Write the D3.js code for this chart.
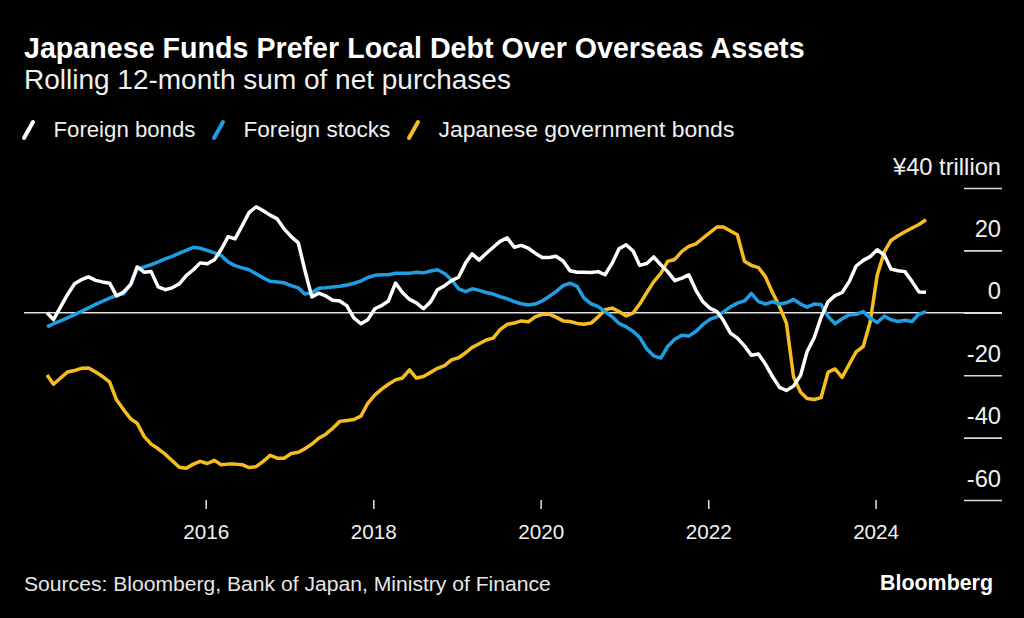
<!DOCTYPE html>
<html><head><meta charset="utf-8">
<script src="https://cdn.jsdelivr.net/npm/d3@7"></script>
<style>
html,body{margin:0;padding:0;background:#000;}
svg{display:block;font-family:"Liberation Sans",Arial,Helvetica,sans-serif;}
</style></head><body>
<svg id="chart" width="1024" height="618"></svg>
<script>
const titleText = "Japanese Funds Prefer Local Debt Over Overseas Assets";
const subtitleText = "Rolling 12-month sum of net purchases";
const sourceText = "Sources: Bloomberg, Bank of Japan, Ministry of Finance";
const logoText = "Bloomberg";
const seriesNames = ["Foreign bonds", "Foreign stocks", "Japanese government bonds"];
const seriesColors = ["#ffffff", "#1f9fe3", "#f5bd1f"];
const firstMonth = "2014-02";

// Rolling 12-month net purchases, ¥ trillion, monthly from Feb 2014
const foreignBonds = [
  0.0, -2.2, 1.9, 5.8, 9.3, 10.6, 11.5, 10.4, 9.9, 9.5,
  5.4, 6.7, 9.1, 14.7, 13.0, 13.2, 8.3, 7.4, 8.0, 9.3,
  11.9, 13.8, 16.0, 15.7, 17.0, 20.2, 24.4, 23.7, 27.9, 32.1,
  34.0, 32.7, 31.3, 30.1, 26.9, 24.4, 22.4, 13.8, 5.1, 6.3,
  5.4, 4.0, 3.8, 2.2, -1.6, -3.5, -2.2, 1.3, 2.4, 3.8,
  9.5, 6.5, 4.3, 3.2, 1.3, 3.5, 7.4, 8.7, 10.3, 11.4,
  16.0, 18.9, 16.9, 19.0, 21.0, 22.9, 24.0, 21.0, 21.6, 20.7,
  19.1, 17.7, 17.7, 18.1, 16.6, 13.5, 13.0, 13.0, 12.9, 13.2,
  12.2, 15.9, 20.5, 21.8, 19.7, 15.2, 15.8, 17.9, 15.4, 13.2,
  10.3, 11.1, 12.2, 7.3, 3.6, 1.5, 0.4, -2.4, -6.5, -8.1,
  -10.6, -13.6, -13.2, -16.5, -20.4, -23.9, -24.9, -23.5, -20.0, -12.5,
  -8.0, -1.5, 3.6, 5.5, 6.5, 10.0, 15.0, 16.8, 18.0, 20.2,
  18.5, 14.0, 13.5, 13.2, 10.0, 6.7, 6.6
];
const foreignStocks = [
  -4.5, -3.5, -2.6, -1.6, -0.6, 0.5, 1.6, 2.7, 3.7, 4.7,
  5.6, 6.1, 9.1, 14.1, 14.7, 15.4, 16.3, 17.3, 18.1, 19.1,
  20.0, 21.0, 20.7, 20.0, 19.2, 18.4, 16.3, 15.1, 14.4, 13.8,
  12.5, 11.2, 10.1, 9.9, 9.6, 8.7, 8.0, 6.0, 6.5, 7.9,
  8.0, 8.3, 8.5, 8.9, 9.4, 10.2, 11.3, 12.0, 12.2, 12.2,
  12.7, 12.7, 12.7, 13.0, 12.8, 13.4, 13.8, 12.6, 10.6, 7.7,
  6.8, 7.7, 7.2, 6.5, 6.0, 5.2, 4.5, 3.6, 2.9, 2.5,
  2.8, 3.8, 5.3, 6.8, 8.7, 9.5, 8.5, 4.7, 2.9, 2.0,
  0.4, -1.3, -3.4, -4.5, -6.0, -7.9, -11.6, -13.8, -14.5, -10.8,
  -8.5, -7.2, -7.4, -6.0, -3.8, -2.1, -1.2, 0.3, 1.9, 3.1,
  3.8, 6.2, 3.6, 2.8, 3.6, 2.8, 3.2, 4.3, 2.8, 1.8,
  2.8, 2.7, -1.2, -3.5, -1.9, -0.6, -0.5, 0.4, -1.7, -3.1,
  -1.0, -2.2, -2.8, -2.4, -2.8, -0.4, 0.4
];
const japaneseGovBonds = [
  -19.9, -22.9, -20.9, -19.0, -18.5, -17.8, -17.7, -19.0, -20.4, -22.2,
  -27.9, -31.1, -34.0, -35.4, -39.7, -42.1, -43.6, -45.3, -47.4, -49.5,
  -49.8, -48.5, -47.6, -48.3, -47.3, -48.7, -48.5, -48.5, -48.7, -49.6,
  -49.3, -47.6, -45.7, -46.6, -46.6, -45.1, -44.7, -43.6, -42.1, -40.2,
  -38.9, -37.0, -34.8, -34.5, -34.2, -33.1, -29.0, -26.3, -24.4, -22.9,
  -21.5, -20.9, -18.3, -20.9, -20.4, -19.1, -17.8, -16.9, -15.1, -14.4,
  -12.8, -11.1, -9.9, -8.7, -8.1, -5.4, -3.7, -3.3, -2.6, -2.9,
  -1.3, -0.5, -0.4, -1.4, -2.6, -2.8, -3.4, -3.7, -3.3, -1.3,
  1.0, 1.5, 0.4, -1.0, 0.0, 2.8, 6.5, 9.9, 12.6, 16.5,
  17.1, 19.7, 21.3, 22.1, 23.9, 25.7, 27.5, 27.5, 26.2, 25.0,
  16.5, 15.2, 14.5, 11.5, 6.5, 2.0, -3.3, -20.5, -25.5, -27.5,
  -27.8, -27.2, -19.0, -18.0, -20.7, -16.5, -12.5, -10.8, -3.0, 12.0,
  19.5, 23.2, 24.7, 26.0, 27.2, 28.3, 29.8
];
const yTicks = [40, 20, 0, -20, -40, -60];
const yTickLabels = ["¥40 trillion", "20", "0", "-20", "-40", "-60"];
const xTickYears = [2016, 2018, 2020, 2022, 2024];

const svg = d3.select("#chart");
svg.append("rect").attr("width", 1024).attr("height", 618).attr("fill", "#000");

function fit(sel, target) {
  const w = sel.node().getComputedTextLength();
  const fs = parseFloat(sel.attr("font-size"));
  const nfs = fs * target / w;
  sel.attr("font-size", nfs);
  return nfs;
}

// Title & subtitle
const t = svg.append("text").attr("x", 24).attr("y", 57.5).attr("fill", "#fff")
  .attr("font-weight", "bold").attr("font-size", 24).text(titleText);
fit(t, 781);
const st = svg.append("text").attr("x", 24).attr("y", 88.5).attr("fill", "#f0f0f0")
  .attr("font-size", 21).text(subtitleText);
fit(st, 487);

// Legend
const seriesList = [foreignBonds, foreignStocks, japaneseGovBonds];
const legendWidths = [142, 147, 296];
let lx = 24;
seriesNames.forEach((name, i) => {
  const g = svg.append("g");
  g.append("line").attr("x1", lx).attr("y1", 138).attr("x2", lx + 9).attr("y2", 122)
    .attr("stroke", seriesColors[i]).attr("stroke-width", 4).attr("stroke-linecap", "round");
  const tx = g.append("text").attr("x", lx + 29.5).attr("y", 137).attr("fill", "#f0f0f0")
    .attr("font-size", 20).text(name);
  fit(tx, legendWidths[i]);
  lx = lx + 29.5 + legendWidths[i] + 18.5;
});

// Scales
const x = d3.scaleTime()
  .domain([new Date(2016, 0, 1), new Date(2024, 0, 1)])
  .range([205.7, 875.6]);
const y = d3.scaleLinear().domain([-60, 40]).range([500, 188]);

const start = d3.timeParse("%Y-%m")(firstMonth);
const dates = foreignBonds.map((_, i) => d3.timeDay.offset(d3.timeMonth.offset(start, i), 7));

// Y axis (right side)
const yAxis = d3.axisLeft(y).tickValues(yTicks).tickSize(38)
  .tickFormat((d, i) => yTickLabels[i]);
const yg = svg.append("g").attr("transform", "translate(1002,0)").call(yAxis);
yg.select(".domain").remove();
yg.selectAll(".tick line").attr("stroke", "#d9d9d9").attr("stroke-width", 1.6);
yg.selectAll(".tick text").attr("x", -1).attr("y", -14).attr("dy", 0)
  .attr("fill", "#f0f0f0").attr("font-family", null).attr("font-size", 20);
const ylab40 = yg.selectAll(".tick text").filter((d) => d === 40);
const yfs = fit(ylab40, 108);
yg.selectAll(".tick text").attr("font-size", yfs);

// X axis
const xAxis = d3.axisBottom(x).tickValues(xTickYears.map(yr => new Date(yr, 0, 1)))
  .tickSize(9).tickFormat(d3.timeFormat("%Y"));
const xg = svg.append("g").attr("transform", "translate(0,500)").call(xAxis);
xg.select(".domain").remove();
xg.selectAll(".tick line").attr("stroke", "#d9d9d9").attr("stroke-width", 1.6);
xg.selectAll(".tick text").attr("y", 39).attr("dy", 0).attr("fill", "#f0f0f0")
  .attr("font-family", null).attr("font-size", 20);
const xfs = fit(xg.select(".tick text"), 46);
xg.selectAll(".tick text").attr("font-size", xfs);

// Zero line
svg.append("line").attr("x1", 24).attr("x2", 1002).attr("y1", y(0)).attr("y2", y(0))
  .attr("stroke", "#e0e0e0").attr("stroke-width", 1.6);

// Lines
const line = d3.line().x((d, i) => x(dates[i])).y(d => y(d));
[2, 1, 0].forEach(i => {
  svg.append("path").datum(seriesList[i]).attr("d", line)
    .attr("fill", "none").attr("stroke", seriesColors[i]).attr("stroke-width", 3.5)
    .attr("stroke-linejoin", "round").attr("stroke-linecap", "butt");
});

// Footer
const src = svg.append("text").attr("x", 24).attr("y", 591).attr("fill", "#e6e6e6")
  .attr("font-size", 19).text(sourceText);
fit(src, 527);
const logo = svg.append("text").attr("x", 993).attr("y", 590).attr("text-anchor", "end")
  .attr("fill", "#fff").attr("font-weight", "bold").attr("font-size", 19).text(logoText);
fit(logo, 113);
</script>
</body></html>
